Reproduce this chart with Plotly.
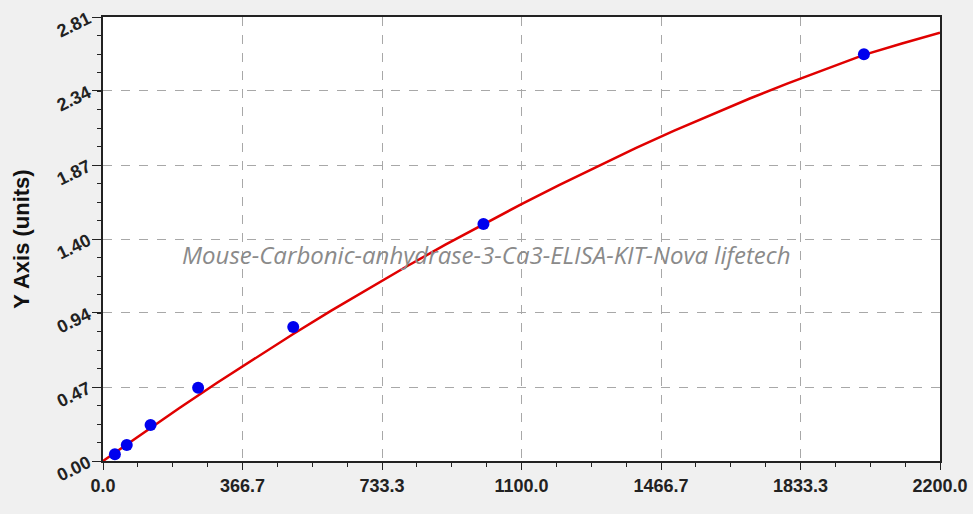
import plotly.graph_objects as go

# standard points (concentration, OD)
std_conc = [31.25, 62.5, 125, 250, 500, 1000, 2000]
std_od = [0.042, 0.101, 0.228, 0.464, 0.848, 1.50, 2.574]

# fitted curve
fit_conc = [0, 100, 200, 300, 400, 500, 600, 700, 800, 900, 1000, 1100,
            1200, 1300, 1400, 1500, 1600, 1700, 1800, 1900, 2000, 2100, 2200]
fit_od = [0.0, 0.169, 0.334, 0.495, 0.652, 0.804, 0.952, 1.095, 1.234, 1.369,
          1.500, 1.626, 1.748, 1.866, 1.980, 2.089, 2.194, 2.294, 2.390, 2.482,
          2.570, 2.642, 2.71]

x_ticks = [0, 366.67, 733.33, 1100, 1466.67, 1833.33, 2200]
x_labels = ["0.0", "366.7", "733.3", "1100.0", "1466.7", "1833.3", "2200.0"]
y_ticks = [0, 0.4683, 0.9367, 1.405, 1.8733, 2.3417, 2.81]
y_labels = ["0.00", "0.47", "0.94", "1.40", "1.87", "2.34", "2.81"]

watermark = "Mouse-Carbonic-anhydrase-3-Ca3-ELISA-KIT-Nova lifetech"

fig = go.Figure()
fig.add_trace(go.Scatter(x=fit_conc, y=fit_od, mode="lines",
                         line=dict(color="#e00000", width=2.5), hoverinfo="skip"))
fig.add_trace(go.Scatter(x=std_conc, y=std_od, mode="markers",
                         marker=dict(color="#0000ee", size=12)))

tickfont = dict(family="Liberation Sans", size=18, color="#222", weight="bold")

fig.update_xaxes(range=[0, 2200], tickvals=x_ticks, ticktext=x_labels,
                 showline=True, linecolor="#222", linewidth=2, mirror=True,
                 ticks="outside", ticklen=7, tickcolor="#222", automargin=False,
                 showgrid=True, gridcolor="#a8a8a8", griddash="dash", gridwidth=1,
                 zeroline=False, tickfont=tickfont,
                 minor=dict(dtick=91.667, tick0=0, ticks="outside", ticklen=4,
                            tickcolor="#222", showgrid=False))
fig.update_yaxes(range=[0, 2.81], tickvals=y_ticks, ticktext=y_labels,
                 showline=True, linecolor="#222", linewidth=2, mirror=True,
                 ticks="outside", ticklen=9, tickcolor="#222", tickangle=-26,
                 automargin=False,
                 showgrid=True, gridcolor="#a8a8a8", griddash="dash", gridwidth=1,
                 zeroline=False, tickfont=dict(tickfont, size=18),
                 minor=dict(dtick=0.117083, tick0=0, ticks="outside", ticklen=4,
                            tickcolor="#222", showgrid=False),
                 title=dict(text="Y Axis (units)", standoff=18,
                            font=dict(family="Liberation Sans", size=22,
                                      color="#111", weight="bold")))

fig.add_annotation(text=watermark, x=0.457, y=0.464, xref="paper", yref="paper",
                   showarrow=False,
                   font=dict(family="Open Sans", size=24, color="#8a8a8a",
                             style="italic"))

fig.update_layout(width=973, height=514, showlegend=False,
                  paper_bgcolor="#f0f0f0", plot_bgcolor="#ffffff",
                  margin=dict(l=103, r=33, t=17, b=53))

fig.write_html("out.html", config={"displayModeBar": False},
               post_script="document.body.style.margin='0';")
